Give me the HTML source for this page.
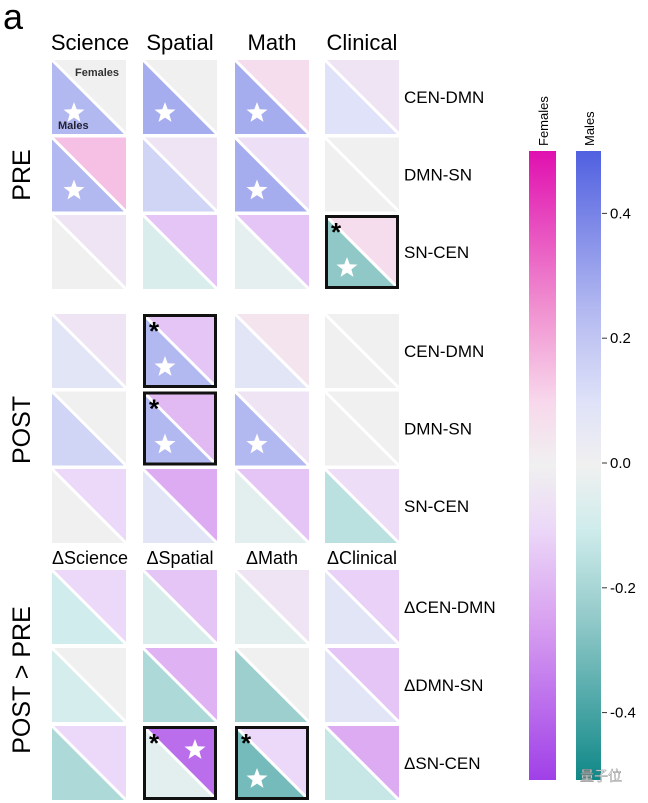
<!DOCTYPE html>
<html><head><meta charset="utf-8">
<style>
html,body{margin:0;padding:0;background:#fff;}
svg{display:block;font-family:"Liberation Sans","Noto Sans CJK SC",sans-serif;}
</style></head>
<body>
<svg id="chart" width="648" height="803" viewBox="0 0 648 803"></svg>
<script>
const cols = ["Science","Spatial","Math","Clinical"];
const dcols = ["ΔScience","ΔSpatial","ΔMath","ΔClinical"];
const rowsLab = ["CEN-DMN","DMN-SN","SN-CEN"];
const drowsLab = ["ΔCEN-DMN","ΔDMN-SN","ΔSN-CEN"];
// values [section][row][col]
const femalesVals = [
 [[0.0,0.0,0.08,-0.05],[0.15,-0.05,-0.07,0.0],[-0.05,-0.15,-0.15,0.08]],
 [[-0.05,-0.15,0.05,0.0],[0.0,-0.18,-0.05,0.0],[-0.1,-0.22,-0.15,-0.08]],
 [[-0.1,-0.15,-0.05,-0.12],[0.0,-0.2,0.0,-0.15],[-0.1,-0.38,-0.1,-0.22]]
];
const malesVals = [
 [[0.25,0.28,0.28,0.1],[0.25,0.15,0.28,0.0],[0.0,-0.07,-0.03,-0.25]],
 [[0.08,0.25,0.08,0.0],[0.15,0.25,0.25,0.0],[0.0,0.08,-0.04,-0.15]],
 [[-0.1,-0.07,-0.04,0.08],[-0.08,-0.18,-0.22,0.08],[-0.18,-0.04,-0.3,-0.12]]
];
// significance: "m" male star, "f" female star
const starCells = [
 [["m","m","m",""],["m","","m",""],["","","","m"]],
 [["","m","",""],["","m","m",""],["","","",""]],
 [["","","",""],["","","",""],["","f","m",""]]
];
const boxCells = [
 [[0,0,0,0],[0,0,0,0],[0,0,0,1]],
 [[0,1,0,0],[0,1,0,0],[0,0,0,0]],
 [[0,0,0,0],[0,0,0,0],[0,1,1,0]]
];
const sectionNames = ["PRE","POST","POST > PRE"];
const tickVals = [0.4,0.2,0.0,-0.2,-0.4];

const NS="http://www.w3.org/2000/svg";
const svg=document.getElementById('chart');
function mk(t,a,p){const e=document.createElementNS(NS,t);for(const k in a)e.setAttribute(k,a[k]);(p||svg).appendChild(e);return e;}
function hex(h){return [parseInt(h.slice(1,3),16),parseInt(h.slice(3,5),16),parseInt(h.slice(5,7),16)];}
const fStops=[[-0.5,"#a040e8"],[-0.25,"#d8a0f0"],[-0.1,"#ecd8f8"],[0,"#f0f0f0"],[0.1,"#f8d8ec"],[0.25,"#f090d0"],[0.5,"#e010b0"]];
const mStops=[[-0.5,"#108888"],[-0.25,"#90c8c8"],[-0.1,"#d0ecec"],[0,"#f0f0f0"],[0.1,"#dfe2f8"],[0.25,"#b2b8f0"],[0.5,"#5060e0"]];
function cmap(stops,v){v=Math.max(-0.5,Math.min(0.5,v));for(let i=0;i<stops.length-1;i++){const[a,ca]=stops[i],[b,cb]=stops[i+1];if(v>=a&&v<=b){const t=(v-a)/(b-a);const A=hex(ca),B=hex(cb);return `rgb(${A.map((x,j)=>Math.round(x+(B[j]-x)*t)).join(',')})`;}}return stops[0][1];}

const colX=[52,143,235,325], cw=74;
const secY=[[60,137.5,215],[314,391.5,469],[570,648,726]];
function starPath(cx,cy,r){let p="";for(let i=0;i<10;i++){const rr=i%2?r*0.42:r;const a=-Math.PI/2+i*Math.PI/5;p+=(i?"L":"M")+(cx+rr*Math.cos(a)).toFixed(1)+","+(cy+rr*Math.sin(a)).toFixed(1);}return p+"Z";}

let t=mk('text',{x:3,y:29,'font-size':36});t.textContent="a";


const colCenters=[90,180,272,362];
cols.forEach((c,i)=>{const e=mk('text',{x:colCenters[i],y:50,'font-size':22,'text-anchor':'middle'});e.textContent=c;
});
dcols.forEach((c,i)=>{const e=mk('text',{x:colCenters[i],y:564,'font-size':18,'text-anchor':'middle'});e.textContent=c;
});

const secCenters=[175,430,680];
sectionNames.forEach((s,i)=>{const e=mk('text',{x:0,y:0,'font-size':25,'text-anchor':'middle',transform:`translate(30,${secCenters[i]}) rotate(-90)`});e.textContent=s;
});

for(let s=0;s<3;s++){for(let r=0;r<3;r++){
 const y=secY[s][r];
 const lab=mk('text',{x:404,y:y+cw/2+6,'font-size':17});lab.textContent=(s==2?drowsLab:rowsLab)[r];
 
 for(let c=0;c<4;c++){
  const x=colX[c];
  const g=mk('g',{});
  
  mk('polygon',{points:`${x},${y} ${x+cw},${y} ${x+cw},${y+cw}`,fill:cmap(fStops,femalesVals[s][r][c])},g);
  mk('polygon',{points:`${x},${y} ${x+cw},${y+cw} ${x},${y+cw}`,fill:cmap(mStops,malesVals[s][r][c])},g);
  mk('line',{x1:x,y1:y,x2:x+cw,y2:y+cw,stroke:'#fff','stroke-width':3},g);
  const st=starCells[s][r][c];
  if(st==="m")mk('path',{d:starPath(x+22,y+53,11),fill:'#fff'},g);
  if(st==="f")mk('path',{d:starPath(x+52,y+24,11),fill:'#fff'},g);
  if(boxCells[s][r][c]){
   mk('rect',{x:x+1.5,y:y+1.5,width:cw-3,height:cw-3,fill:'none',stroke:'#111','stroke-width':3},g);
   const a=mk('text',{x:x+6,y:y+26,'font-size':26,'font-weight':'bold'},g);a.textContent="*";
  }
 }
}}
let fl=mk('text',{x:75,y:76,'font-size':11,'font-weight':'bold',fill:'#333'});fl.textContent="Females";

let ml=mk('text',{x:58,y:129,'font-size':11,'font-weight':'bold',fill:'#223'});ml.textContent="Males";


// colorbars
const cbTop=151,cbBot=775;
function yv(v){return cbTop+(0.5-v)/1*(cbBot-cbTop);}
const defs=mk('defs',{});
function grad(id,stops){const g=mk('linearGradient',{id,x1:0,y1:0,x2:0,y2:1},defs);
 for(let i=stops.length-1;i>=0;i--){mk('stop',{offset:((0.5-stops[i][0])).toFixed(3),'stop-color':stops[i][1]},g);}}
grad('gf',fStops);grad('gm',mStops);
let cf=mk('rect',{x:529,y:cbTop,width:27,height:cbBot-cbTop+5,fill:'url(#gf)'});

let cm=mk('rect',{x:576,y:cbTop,width:25,height:cbBot-cbTop+5,fill:'url(#gm)'});

let ft=mk('text',{x:0,y:0,'font-size':13,transform:'translate(548,146) rotate(-90)'});ft.textContent="Females";

let mt=mk('text',{x:0,y:0,'font-size':13,transform:'translate(594,146) rotate(-90)'});mt.textContent="Males";

tickVals.forEach(v=>{const y=yv(v);
 mk('line',{x1:602,y1:y,x2:607,y2:y,stroke:'#333','stroke-width':1});
 const e=mk('text',{x:610,y:y+5,'font-size':15});e.textContent=v.toFixed(1);
 });
let wm=mk('text',{x:580,y:781,'font-size':14,fill:'#fff',stroke:'#777','stroke-width':0.4});wm.textContent="量子位";

</script>
</body></html>
